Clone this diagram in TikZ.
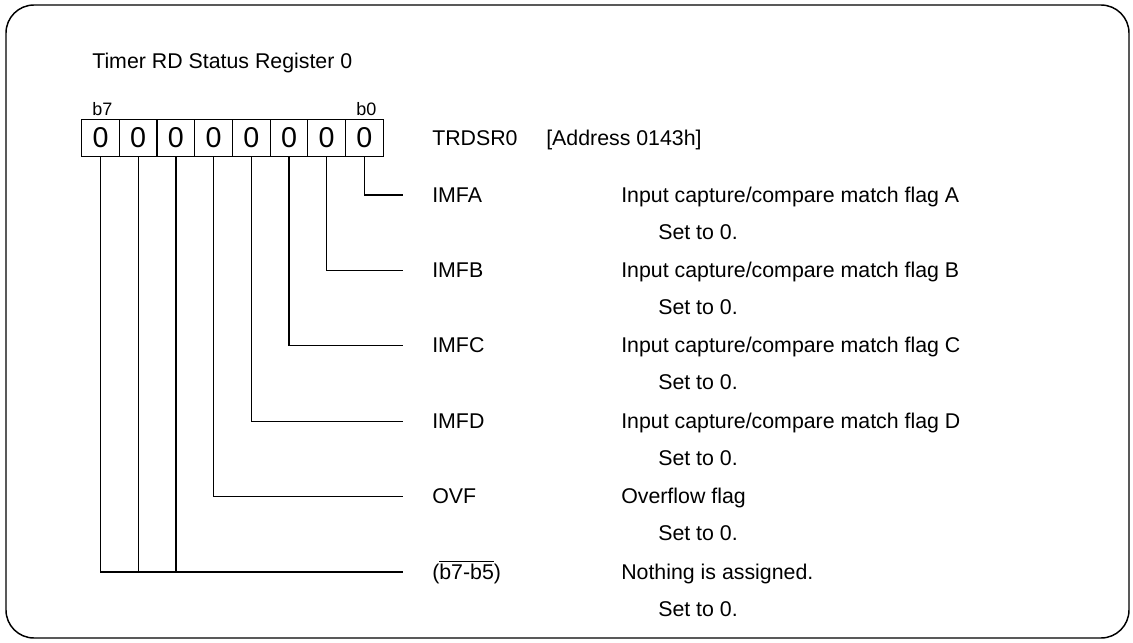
\documentclass[tikz,border=0pt]{standalone}
\usepackage{fontspec}
\setmainfont{Liberation Sans}
\usetikzlibrary{calc}

\tikzset{
  frame/.style={line width=1.1pt, rounded corners=21pt},
  bitcell/.style={draw, line width=0.9pt, minimum width=28.3pt, minimum height=28.3pt,
    inner sep=0pt, font=\fontsize{21.5}{24}\selectfont},
  bitno/.style={anchor=base, inner sep=0pt, font=\fontsize{13.5}{15}\selectfont},
  lbl/.style={anchor=base west, inner sep=0pt, font=\fontsize{16}{19}\selectfont},
  wire/.style={line width=0.9pt}
}

\begin{document}
\begin{tikzpicture}[x=0.75pt, y=-0.75pt]

\useasboundingbox (0,0) rectangle (1133,643);

% Outer frame
\draw[frame] (6,5) rectangle (1129,638);

% Title
\node[lbl] (title) at (92,68) {Timer RD Status Register 0};

% ============================================================
% Register cells, b7 on the left, b0 on the right
% ============================================================
\foreach \b [count=\j from 0] in {7,...,0} {
  \node[bitcell] (b\b) at (100.5+37.7*\j,138) {0};
}
\node[bitno] (lb7) at ([xshift=1.5pt, yshift=2.4pt]b7.north) {b7};
\node[bitno] (lb0) at ([xshift=1.5pt, yshift=2.4pt]b0.north) {b0};

% Register name and address
\node[lbl] (reg) at (432,145) {TRDSR0};
\node[lbl] (addr) at (546,145) {[Address 0143h]};

% ============================================================
% Bit rows: line at y, text baseline at y+7, "Set to 0." at y+44
% ============================================================
\foreach \nm/\lt/\y/\bit in {imfa/A/195/0, imfb/B/270.4/1, imfc/C/345.8/2, imfd/D/421.2/3} {
  \node[lbl] (\nm) at (432,\y+7) {IMF\lt};
  \node[lbl] (\nm-d) at (621,\y+7) {Input capture/compare match flag \lt};
  \node[lbl] (\nm-s) at (658,\y+44) {Set to 0.};
  \coordinate (\nm-e) at (403,\y);
  \draw[wire] (b\bit.south) |- (\nm-e);
}

% OVF (b4)
\node[lbl] (ovf) at (432,503.6) {OVF};
\node[lbl] (ovf-d) at (621,503.6) {Overflow flag};
\node[lbl] (ovf-s) at (658,540.6) {Set to 0.};
\coordinate (ovf-e) at (403,496.6);
\draw[wire] (b4.south) |- (ovf-e);

% Reserved bits b7-b5
\node[lbl] (rsv) at (432,579) {(\ensuremath{\overline{\hbox{b7-b5}}})};
\node[lbl] (rsv-d) at (621,579) {Nothing is assigned.};
\node[lbl] (rsv-s) at (658,616) {Set to 0.};
\coordinate (rsv-e) at (403,572);
\draw[wire] (b7.south) |- (rsv-e);
\foreach \b in {6,5} {
  \draw[wire] (b\b.south) -- (b\b.south |- rsv-e);
}

\end{tikzpicture}
\end{document}
